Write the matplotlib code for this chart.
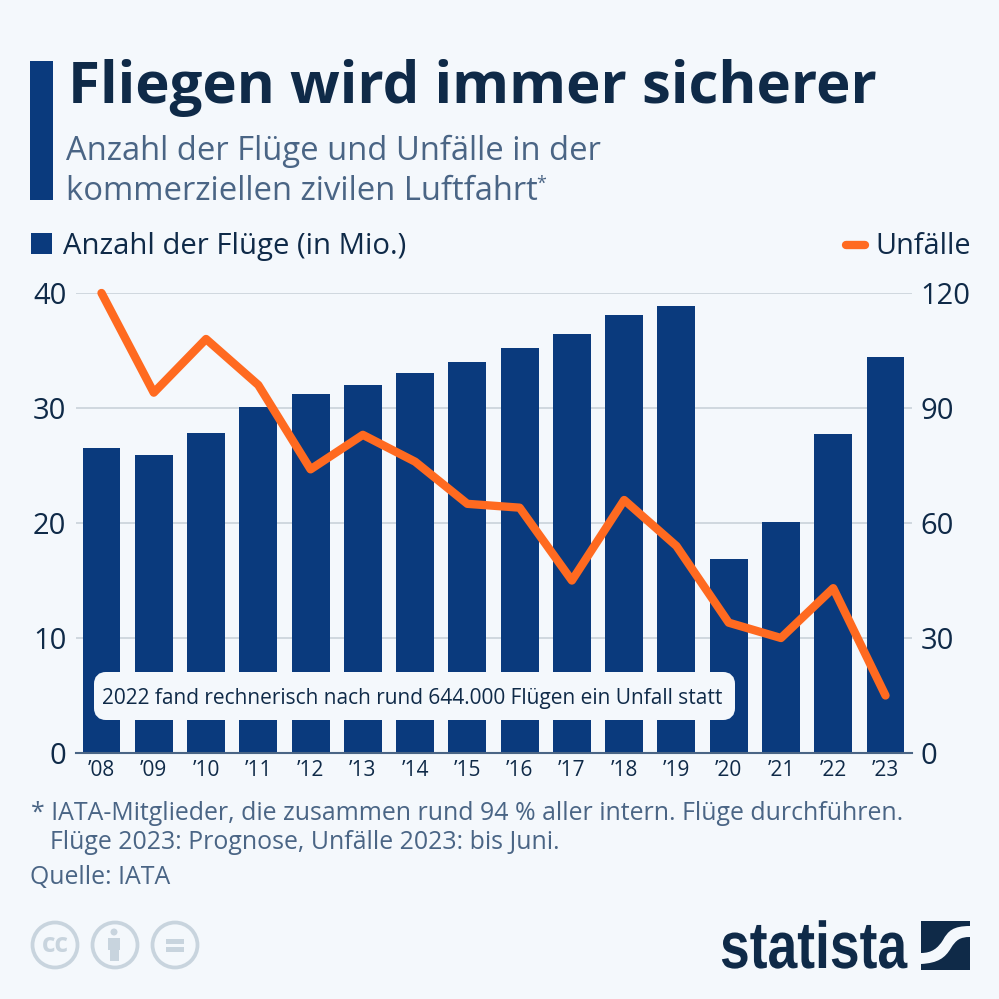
import matplotlib
matplotlib.use("Agg")
import matplotlib.pyplot as plt
import matplotlib.patches as patches
import matplotlib.patheffects as path_effects
from matplotlib.path import Path
from matplotlib.transforms import Affine2D

years = ["’08", "’09", "’10", "’11", "’12", "’13", "’14", "’15",
         "’16", "’17", "’18", "’19", "’20", "’21", "’22", "’23"]
flights = [26.5, 25.9, 27.8, 30.1, 31.2, 32.0, 33.0, 34.0,
           35.2, 36.4, 38.1, 38.9, 16.9, 20.1, 27.7, 34.4]
accidents = [120, 94, 108, 96, 74, 83, 76, 65, 64, 45, 66, 54, 34, 30, 43, 15]
left_ticks = [0, 10, 20, 30, 40]
right_ticks = [0, 30, 60, 90, 120]

BG = "#f4f8fc"
BLUE = "#0a3a7d"
ORANGE = "#ff6a20"
DARK = "#0f2a48"
SLATE = "#4a6585"
GRID = "#c9d2da"
ICON = "#c8d4de"

plt.rcParams["font.family"] = ["Open Sans", "DejaVu Sans"]

W = 999.0
fig = plt.figure(figsize=(9.99, 9.99), dpi=100, facecolor=BG)


def px(x, y):
    # pixel position from the top left -> figure fraction
    return x / W, 1 - y / W


def label(x, y, s, size, color, **kw):
    fx, fy = px(x, y)
    kw.setdefault("va", "baseline")
    return fig.text(fx, fy, s, fontsize=size, color=color, **kw)


def rect(x0, y0, x1, y1, color):
    fig.add_artist(patches.Rectangle(px(x0, y1), (x1 - x0) / W, (y1 - y0) / W,
                                     transform=fig.transFigure, facecolor=color,
                                     edgecolor="none"))


class Squeeze(path_effects.AbstractPathEffect):
    # narrows a text horizontally around a fixed pixel x
    def __init__(self, x0, factor):
        super().__init__()
        self.x0 = x0
        self.factor = factor

    def draw_path(self, renderer, gc, tpath, affine, rgbFace=None):
        squeeze = Affine2D().translate(-self.x0, 0).scale(self.factor, 1).translate(self.x0, 0)
        renderer.draw_path(gc, tpath, affine + squeeze, rgbFace)


# Plot area
ax = fig.add_axes([76 / W, 1 - 753 / W, (912 - 76) / W, (753 - 293) / W])
ax.set_facecolor("none")
xpos = list(range(len(years)))
step = 52.27
ax.set_xlim(-(101.5 - 76) / step, 15 + (912 - 885.5) / step)
ax.set_ylim(0, 40)
ax.bar(xpos, flights, width=0.725, color=BLUE, zorder=2)
ax.set_yticks(left_ticks)
ax.set_xticks(xpos)
ax.set_xticklabels(years)
ax.grid(axis="y", color=GRID, linewidth=1.2, zorder=0)
ax.set_axisbelow(True)
for s in ["top", "left", "right"]:
    ax.spines[s].set_visible(False)
ax.spines["bottom"].set_color(SLATE)
ax.spines["bottom"].set_linewidth(1.5)
ax.tick_params(axis="y", length=0, labelsize=21, labelcolor=DARK, pad=7)
ax.tick_params(axis="x", length=0, labelsize=15, labelcolor=DARK, pad=5)

ax2 = ax.twinx()
ax2.set_ylim(0, 120)
ax2.set_yticks(right_ticks)
ax2.plot(xpos, accidents, color=ORANGE, linewidth=6, solid_joinstyle="round",
         solid_capstyle="round", zorder=3, clip_on=False)
ax2.tick_params(axis="y", length=0, labelsize=21, labelcolor=DARK, pad=6)
for s in ax2.spines.values():
    s.set_visible(False)

# Annotation box
box = patches.FancyBboxPatch(px(100, 714), (729 - 100) / W, (714 - 678) / W,
                             boxstyle=f"round,pad=0,rounding_size={6 / W}",
                             transform=fig.transFigure, facecolor=BG,
                             edgecolor=BG, linewidth=12 * 0.72, zorder=5)
fig.add_artist(box)
label(102, 704, "2022 fand rechnerisch nach rund 644.000 Flügen ein Unfall statt",
      15, DARK, zorder=6)

# Header
rect(30, 61, 53, 200, BLUE)
label(68, 103, "Fliegen wird immer sicherer", 41.9, DARK, fontweight="bold")
label(66, 160, "Anzahl der Flüge und Unfälle in der", 23.55, SLATE)
label(66, 200, "kommerziellen zivilen Luftfahrt", 23.55, SLATE)
label(536, 189, "*", 13, SLATE)

# Legend
rect(31, 233, 52, 254, BLUE)
label(63, 254, "Anzahl der Flüge (in Mio.)", 21.1, DARK)
fig.add_artist(plt.Line2D([846 / W, 865 / W], [1 - 245 / W] * 2, color=ORANGE,
                          linewidth=6, solid_capstyle="round",
                          transform=fig.transFigure))
label(971, 254, "Unfälle", 20.8, DARK, ha="right")

# Footer
label(31, 820, "* IATA-Mitglieder, die zusammen rund 94 % aller intern. Flüge durchführen.",
      17.95, SLATE)
label(50, 849, "Flüge 2023: Prognose, Unfälle 2023: bis Juni.", 17.95, SLATE)
label(30, 884, "Quelle: IATA", 17.95, SLATE)

# Licence icons
for cx in (55, 115, 175):
    fig.add_artist(patches.Circle(px(cx, 945), 22.5 / W, transform=fig.transFigure,
                                  facecolor="none", edgecolor=ICON, linewidth=2.7))
label(55, 952, "cc", 19, ICON, ha="center", fontweight="bold")
rect(108, 938, 120, 950, ICON)
rect(110, 950, 118.5, 961, ICON)
fig.add_artist(patches.Circle(px(114, 932), 3.5 / W, transform=fig.transFigure,
                              facecolor=ICON, edgecolor="none"))
rect(166, 939, 184, 944, ICON)
rect(166, 947, 184, 952, ICON)

# Logo
logo = label(720, 968, "statista", 47.5, DARK, fontweight="bold",
             family=["Liberation Sans", "DejaVu Sans"])
logo.set_path_effects([Squeeze(720, 0.81)])
rect(921, 921, 970, 969.5, DARK)
wave = [(921, 953), (932, 953), (938, 948), (943, 940), (948, 931), (953, 926), (970, 926),
        (970, 937), (960, 937), (956, 940), (951, 948), (945, 958), (938, 963), (921, 964)]
wave_codes = [Path.MOVETO, Path.CURVE4, Path.CURVE4, Path.CURVE4, Path.CURVE4, Path.CURVE4,
              Path.CURVE4, Path.LINETO, Path.CURVE4, Path.CURVE4, Path.CURVE4, Path.CURVE4,
              Path.CURVE4, Path.CURVE4]
fig.add_artist(patches.PathPatch(Path([px(*p) for p in wave], wave_codes),
                                 transform=fig.transFigure, facecolor=BG, edgecolor="none"))

fig.savefig("out.png", dpi=100, facecolor=BG)
